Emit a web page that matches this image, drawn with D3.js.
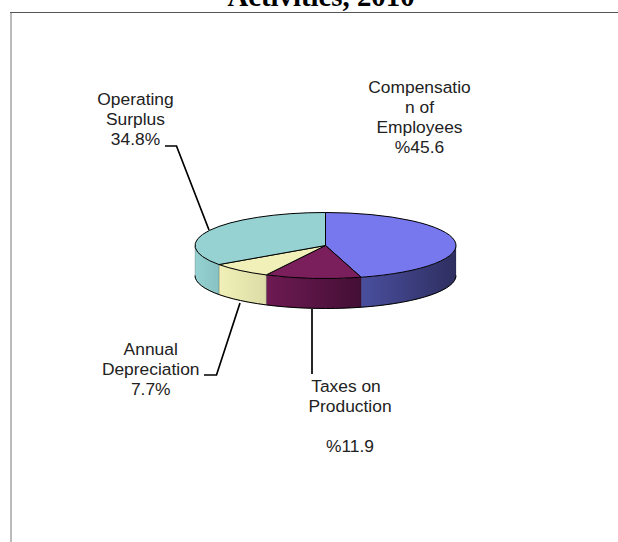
<!DOCTYPE html>
<html>
<head>
<meta charset="utf-8">
<script src="https://cdn.jsdelivr.net/npm/d3@7/dist/d3.min.js"></script>
<style>
html, body { margin: 0; padding: 0; background: #fff; }
svg { display: block; }
</style>
</head>
<body>
<svg id="chart" width="618" height="542"></svg>
<script>
// Value added by component, percent of total
const categories = ["Compensation of Employees", "Taxes on Production", "Annual Depreciation", "Operating Surplus"];
const shares = [45.6, 11.9, 7.7, 34.8];
const topColors = ["#7878ee", "#7a1e5c", "#f0f0b8", "#96d2d2"];
const sideStart = ["#4a4f9e", "#6e1a52", "#f0f0b8", "#96d2d2"];
const sideEnd = ["#2e2e60", "#430f36", "#dcdca6", "#88c2c2"];
const labelLines = [
  ["Compensatio", "n of", "Employees", "%45.6"],
  ["Taxes on", "Production", "", "%11.9"],
  ["Annual", "Depreciation", "7.7%"],
  ["Operating", "Surplus", "34.8%"]
];

const W = 618, H = 542;
const cx = 325.5, cy = 245.5, rx = 130.5, ry = 33, depth = 30;
const svg = d3.select("#chart");

// Flat pie angles, clockwise from twelve o'clock
const slices = d3.pie().sort(null).value(d => d)(shares);
const px = a => cx + rx * Math.sin(a);
const py = a => cy - ry * Math.cos(a);

// Plot frame, open on the right and at the bottom
svg.append("line").attr("x1", 10).attr("x2", W).attr("y1", 12.5).attr("y2", 12.5)
  .attr("stroke", "#555").attr("stroke-width", 1);
svg.append("line").attr("x1", 11).attr("x2", 11).attr("y1", 13).attr("y2", H)
  .attr("stroke", "#bbb").attr("stroke-width", 2);

// Title, running off the top edge
svg.append("text").attr("x", 321).attr("y", 6)
  .attr("text-anchor", "middle")
  .attr("font-family", "Liberation Serif").attr("font-weight", "bold").attr("font-size", 28.8)
  .attr("fill", "#000").text("Activities, 2010");

// Rim gradients, one per slice
const defs = svg.append("defs");
slices.forEach((s, i) => {
  const g = defs.append("linearGradient").attr("id", "rim" + i);
  g.append("stop").attr("offset", "0%").attr("stop-color", sideStart[i]);
  g.append("stop").attr("offset", "100%").attr("stop-color", sideEnd[i]);
});

// Rim: only the front half of the ellipse (angles between 90 and 270 degrees) shows
const rimLine = d3.line().x(d => d[0]).y(d => d[1]);
const arcAngles = (a0, a1) => d3.range(0, 41).map(k => a0 + (a1 - a0) * k / 40);
slices.forEach((s, i) => {
  const a0 = Math.max(s.startAngle, Math.PI / 2);
  const a1 = Math.min(s.endAngle, 3 * Math.PI / 2);
  if (a1 <= a0) return;
  const angles = arcAngles(a0, a1);
  const pts = angles.map(a => [px(a), py(a)])
    .concat(angles.slice().reverse().map(a => [px(a), py(a) + depth]));
  svg.append("path").attr("d", rimLine(pts) + "Z")
    .attr("fill", `url(#rim${i})`)
    .attr("stroke", "#000").attr("stroke-width", 0.4).attr("stroke-opacity", 0.45);
});

// Dark lower edge of the rim
const lowerEdge = arcAngles(Math.PI / 2, 3 * Math.PI / 2).map(a => [px(a), py(a) + depth]);
svg.append("path")
  .attr("d", rimLine(lowerEdge))
  .attr("fill", "none").attr("stroke", "#000").attr("stroke-width", 1);

// Top faces: a circular arc squashed into the ellipse
const arc = d3.arc().innerRadius(0).outerRadius(rx);
svg.append("g")
  .attr("transform", `translate(${cx},${cy}) scale(1,${ry / rx})`)
  .selectAll("path").data(slices).join("path")
  .attr("d", arc)
  .attr("fill", (d, i) => topColors[i])
  .attr("stroke", "#000").attr("stroke-width", 1)
  .attr("vector-effect", "non-scaling-stroke");

// Leader lines from the pie to each label
const leaders = [
  [[312, 309], [312, 374]],
  [[240, 303], [216.5, 375], [204, 375]],
  [[209, 230], [176.5, 146], [165, 146]]
];
svg.append("g").selectAll("path").data(leaders).join("path")
  .attr("d", d3.line())
  .attr("fill", "none").attr("stroke", "#000").attr("stroke-width", 1.7);

// Category labels; first-line baseline and centre for each block
const labelPos = [[419.5, 92.5], [350, 391.5], [150.7, 355], [135.5, 105]];
const labels = svg.append("g")
  .attr("font-family", "Liberation Sans").attr("font-size", 17.4)
  .attr("fill", "#222").attr("text-anchor", "middle");
labelLines.forEach((lines, i) => {
  lines.forEach((t, j) => {
    if (t) labels.append("text")
      .attr("x", labelPos[i][0] - (t === "Taxes on" ? 4 : 0))
      .attr("y", labelPos[i][1] + j * 20).text(t);
  });
});
</script>
</body>
</html>
